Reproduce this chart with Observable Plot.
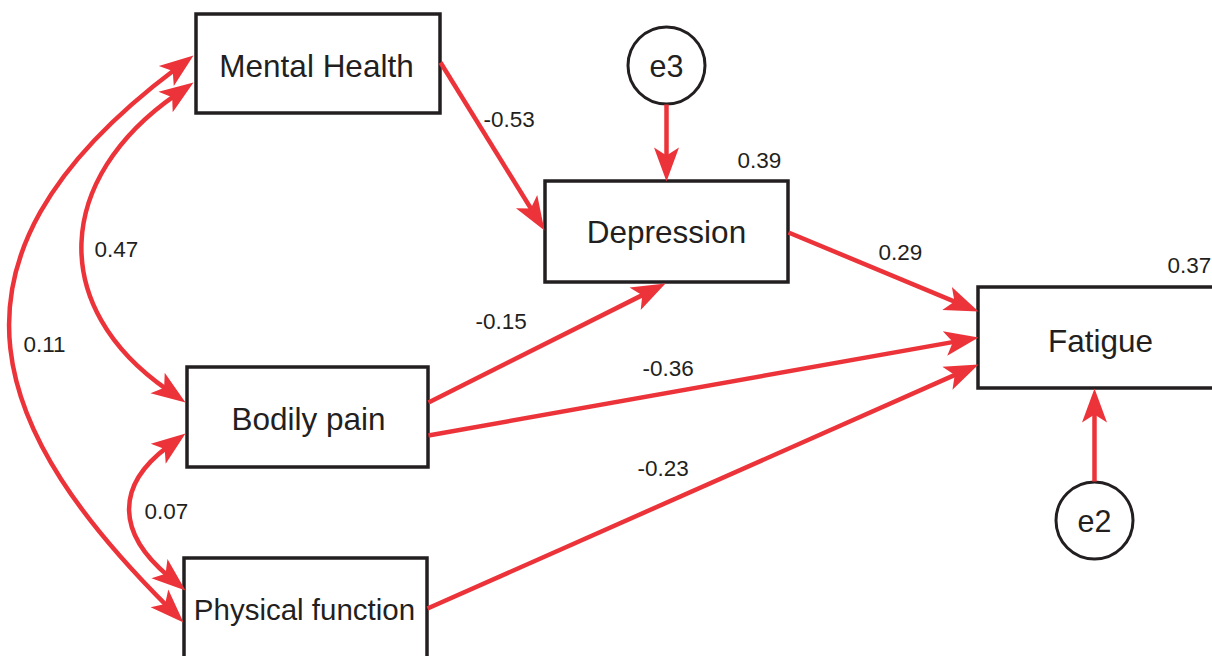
<!DOCTYPE html>
<html>
<head>
<meta charset="utf-8">
<script src="https://cdn.jsdelivr.net/npm/d3@7"></script>
<script src="https://cdn.jsdelivr.net/npm/@observablehq/plot@0.6"></script>
<style>
  html, body { margin: 0; padding: 0; background: #fff; overflow: hidden; }
  #chart svg { overflow: hidden !important; display: block; }
</style>
</head>
<body>
<div id="chart"></div>
<script>
// ---------- data ----------
const variables = ["Mental Health", "Depression", "Fatigue", "Bodily pain", "Physical function"];
const errorTerms = ["e3", "e2"];
const errorTargets = ["Depression", "Fatigue"];
const pathFrom = ["Mental Health", "Depression", "Bodily pain", "Bodily pain", "Physical function"];
const pathTo = ["Depression", "Fatigue", "Depression", "Fatigue", "Fatigue"];
const pathCoef = [-0.53, 0.29, -0.15, -0.36, -0.23];
const corrA = ["Mental Health", "Mental Health", "Bodily pain"];
const corrB = ["Physical function", "Bodily pain", "Physical function"];
const corrCoef = [0.11, 0.47, 0.07];
const r2Var = ["Depression", "Fatigue"];
const r2Value = [0.39, 0.37];

// ---------- layout (pixel positions, kept apart from the data) ----------
const boxLayout = {
  "Mental Health":     { x1: 196, x2: 440, y1: 14,  y2: 113, tx: 316,  ty: 66,  fs: 31.5 },
  "Depression":        { x1: 545, x2: 788, y1: 181, y2: 282, tx: 666,  ty: 232, fs: 31.5 },
  "Fatigue":           { x1: 978, x2: 1222, y1: 287, y2: 388, tx: 1100, ty: 341, fs: 31.5 },
  "Bodily pain":       { x1: 187, x2: 428, y1: 367, y2: 467, tx: 308,  ty: 419, fs: 31.5 },
  "Physical function": { x1: 184, x2: 427, y1: 558, y2: 700, tx: 304,  ty: 610, fs: 29.5 }
};
const ovalLayout = {
  e3: { x: 666,  y: 65,  from: [666, 104],  to: [666, 181] },
  e2: { x: 1094, y: 520, from: [1094, 481], to: [1094, 388] }
};
const pathLayout = [
  { from: [440, 62],  to: [544, 230], lx: 483, ly: 119 },
  { from: [788, 232], to: [978, 311], lx: 878, ly: 252 },
  { from: [428, 402], to: [665, 283], lx: 475, ly: 321 },
  { from: [428, 435], to: [978, 337], lx: 642, ly: 368 },
  { from: [427, 608], to: [978, 364], lx: 637, ly: 468 }
];
const corrLayout = [
  { ctrl: [[193, 55], [-87, 265], [-1, 438], [183, 622]],   lx: 23,  ly: 344 },
  { ctrl: [[193, 82], [55, 178], [47, 306], [185, 402]],    lx: 94,  ly: 249 },
  { ctrl: [[185, 433], [114, 486], [117, 533], [185, 590]], lx: 144, ly: 511 }
];
const r2Layout = [ { lx: 737, ly: 160 }, { lx: 1167, ly: 265 } ];

const RED = "#ec3339";
const INK = "#231f20";
const FONT = "'Liberation Sans', Arial, Helvetica, sans-serif";
const fmt = v => v.toFixed(2);
const HEAD_BACK = 22;

// ---------- derived geometry ----------
function toward(p, q, d) {
  const dx = q[0] - p[0], dy = q[1] - p[1], L = Math.hypot(dx, dy);
  return [p[0] + dx / L * d, p[1] + dy / L * d];
}
function angleDeg(from, to) {
  return Math.atan2(to[1] - from[1], to[0] - from[0]) * 180 / Math.PI;
}

const boxes = variables.map(name => ({ name, ...boxLayout[name] }));
const ovals = errorTerms.map((name, i) => ({ name, target: errorTargets[i], ...ovalLayout[name] }));

const shafts = [];
const heads = [];
pathFrom.forEach((f, i) => {
  const L = pathLayout[i];
  const end = toward(L.to, L.from, HEAD_BACK);
  shafts.push({ x1: L.from[0], y1: L.from[1], x2: end[0], y2: end[1] });
  heads.push({ x: L.to[0], y: L.to[1], rot: angleDeg(L.from, L.to) + 90 });
});
ovals.forEach(o => {
  const end = toward(o.to, o.from, HEAD_BACK);
  shafts.push({ x1: o.from[0], y1: o.from[1], x2: end[0], y2: end[1] });
  heads.push({ x: o.to[0], y: o.to[1], rot: angleDeg(o.from, o.to) + 90 });
});

const curvePts = [];
corrA.forEach((a, i) => {
  const [p0, p1, p2, p3] = corrLayout[i].ctrl;
  const s = toward(p0, p1, HEAD_BACK);
  const e = toward(p3, p2, HEAD_BACK);
  [s, p1, p2, e].forEach(p => curvePts.push({ id: i, x: p[0], y: p[1] }));
  heads.push({ x: p0[0], y: p0[1], rot: angleDeg(p1, p0) + 90 });
  heads.push({ x: p3[0], y: p3[1], rot: angleDeg(p2, p3) + 90 });
});

const pathLabels = pathCoef.map((v, i) => ({ text: fmt(v), x: pathLayout[i].lx, y: pathLayout[i].ly }));
const corrLabels = corrCoef.map((v, i) => ({ text: fmt(v), x: corrLayout[i].lx, y: corrLayout[i].ly }));
const r2Labels = r2Value.map((v, i) => ({ text: fmt(v), var: r2Var[i], x: r2Layout[i].lx, y: r2Layout[i].ly }));

// cubic Bézier curve factory (4 control points per line)
function bezierCurve(context) {
  let pts = [];
  return {
    areaStart() {}, areaEnd() {},
    lineStart() { pts = []; },
    point(x, y) { pts.push([+x, +y]); },
    lineEnd() {
      if (pts.length === 4) {
        context.moveTo(pts[0][0], pts[0][1]);
        context.bezierCurveTo(pts[1][0], pts[1][1], pts[2][0], pts[2][1], pts[3][0], pts[3][1]);
      } else if (pts.length) {
        context.moveTo(pts[0][0], pts[0][1]);
        for (const p of pts.slice(1)) context.lineTo(p[0], p[1]);
      }
    }
  };
}

// arrowhead symbol: tip at origin, pointing up
const headSymbol = {
  draw(context) {
    context.moveTo(0, 0);
    context.lineTo(12.5, 34);
    context.lineTo(0, 26);
    context.lineTo(-12.5, 34);
    context.closePath();
  }
};

const chart = Plot.plot({
  width: 1212,
  height: 656,
  margin: 0,
  style: { fontFamily: FONT, background: "#fff" },
  x: { domain: [0, 1212], range: [0, 1212], axis: null },
  y: { domain: [0, 656], range: [0, 656], axis: null },
  marks: [
    Plot.rect(boxes, { x1: "x1", x2: "x2", y1: "y1", y2: "y2", fill: "#fff", stroke: INK, strokeWidth: 3.5 }),
    Plot.dot(ovals, { x: "x", y: "y", r: 38.5, fill: "#fff", stroke: INK, strokeWidth: 3 }),
    Plot.link(shafts, { x1: "x1", y1: "y1", x2: "x2", y2: "y2", stroke: RED, strokeWidth: 4.5, strokeLinecap: "butt" }),
    Plot.line(curvePts, { x: "x", y: "y", z: "id", curve: bezierCurve, stroke: RED, strokeWidth: 4.5, strokeLinecap: "butt" }),
    Plot.dot(heads, { x: "x", y: "y", rotate: "rot", symbol: headSymbol, r: 5, fill: RED, stroke: "none" }),
    Plot.text(boxes, { x: "tx", y: "ty", text: "name", fontSize: d => d.fs, fill: INK, lineAnchor: "middle", textAnchor: "middle" }),
    Plot.text(ovals, { x: "x", y: d => d.y + 1.5, text: "name", fontSize: 30.5, fill: INK, lineAnchor: "middle", textAnchor: "middle" }),
    Plot.text(pathLabels, { x: "x", y: "y", text: "text", fontSize: 22.5, fill: INK, lineAnchor: "middle", textAnchor: "start" }),
    Plot.text(corrLabels, { x: "x", y: "y", text: "text", fontSize: 22.5, fill: INK, lineAnchor: "middle", textAnchor: "start" }),
    Plot.text(r2Labels, { x: "x", y: "y", text: "text", fontSize: 22.5, fill: INK, lineAnchor: "middle", textAnchor: "start" })
  ]
});
document.getElementById("chart").appendChild(chart);
</script>
</body>
</html>
